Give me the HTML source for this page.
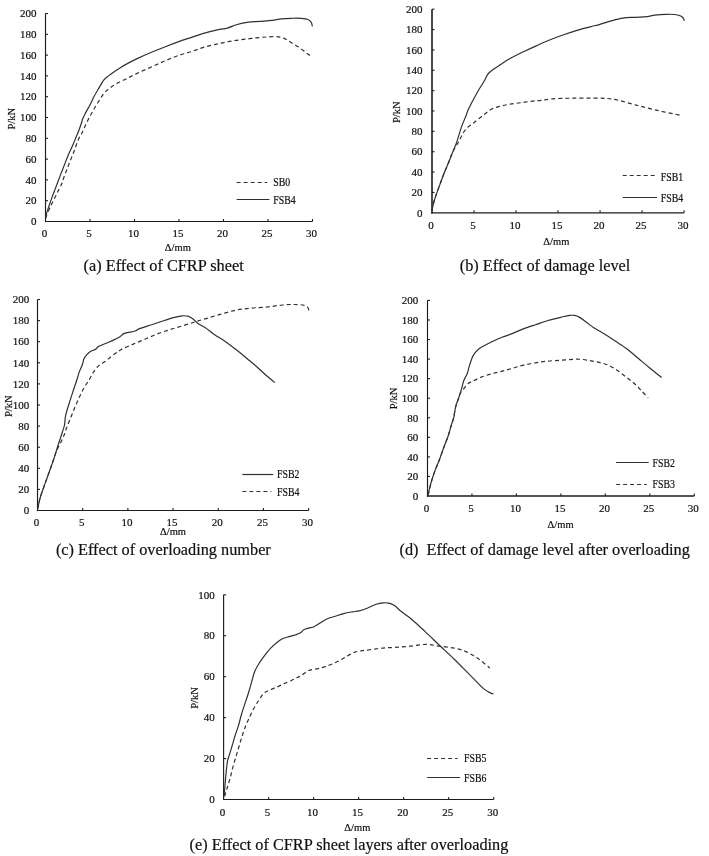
<!DOCTYPE html><html><head><meta charset="utf-8"><style>html,body{margin:0;padding:0;background:#fff;}svg{display:block;filter:blur(0.3px);}text{font-family:"Liberation Serif",serif;fill:#111;stroke:#111;stroke-width:0.2px;}</style></head><body>
<svg width="709" height="856" viewBox="0 0 709 856">
<rect width="709" height="856" fill="#fff"/>
<line x1="45.5" y1="13.5" x2="45.5" y2="222.075" stroke="#1c1c1c" stroke-width="1.15"/>
<line x1="44.925" y1="221.5" x2="312.5" y2="221.5" stroke="#1c1c1c" stroke-width="1.15"/>
<text x="36.5" y="225.2" font-size="11" text-anchor="end">0</text>
<line x1="45.5" y1="200.70" x2="48.0" y2="200.70" stroke="#1c1c1c" stroke-width="1.1"/>
<text x="36.5" y="204.4" font-size="11" text-anchor="end">20</text>
<line x1="45.5" y1="179.90" x2="48.0" y2="179.90" stroke="#1c1c1c" stroke-width="1.1"/>
<text x="36.5" y="183.6" font-size="11" text-anchor="end">40</text>
<line x1="45.5" y1="159.10" x2="48.0" y2="159.10" stroke="#1c1c1c" stroke-width="1.1"/>
<text x="36.5" y="162.8" font-size="11" text-anchor="end">60</text>
<line x1="45.5" y1="138.30" x2="48.0" y2="138.30" stroke="#1c1c1c" stroke-width="1.1"/>
<text x="36.5" y="142.0" font-size="11" text-anchor="end">80</text>
<line x1="45.5" y1="117.50" x2="48.0" y2="117.50" stroke="#1c1c1c" stroke-width="1.1"/>
<text x="36.5" y="121.2" font-size="11" text-anchor="end">100</text>
<line x1="45.5" y1="96.70" x2="48.0" y2="96.70" stroke="#1c1c1c" stroke-width="1.1"/>
<text x="36.5" y="100.4" font-size="11" text-anchor="end">120</text>
<line x1="45.5" y1="75.90" x2="48.0" y2="75.90" stroke="#1c1c1c" stroke-width="1.1"/>
<text x="36.5" y="79.6" font-size="11" text-anchor="end">140</text>
<line x1="45.5" y1="55.10" x2="48.0" y2="55.10" stroke="#1c1c1c" stroke-width="1.1"/>
<text x="36.5" y="58.8" font-size="11" text-anchor="end">160</text>
<line x1="45.5" y1="34.30" x2="48.0" y2="34.30" stroke="#1c1c1c" stroke-width="1.1"/>
<text x="36.5" y="38.0" font-size="11" text-anchor="end">180</text>
<line x1="45.5" y1="13.50" x2="48.0" y2="13.50" stroke="#1c1c1c" stroke-width="1.1"/>
<text x="36.5" y="17.2" font-size="11" text-anchor="end">200</text>
<text x="44.5" y="237.2" font-size="11" text-anchor="middle">0</text>
<line x1="90.00" y1="221.5" x2="90.00" y2="219.0" stroke="#1c1c1c" stroke-width="1.1"/>
<text x="89.0" y="237.2" font-size="11" text-anchor="middle">5</text>
<line x1="134.50" y1="221.5" x2="134.50" y2="219.0" stroke="#1c1c1c" stroke-width="1.1"/>
<text x="133.5" y="237.2" font-size="11" text-anchor="middle">10</text>
<line x1="179.00" y1="221.5" x2="179.00" y2="219.0" stroke="#1c1c1c" stroke-width="1.1"/>
<text x="178.0" y="237.2" font-size="11" text-anchor="middle">15</text>
<line x1="223.50" y1="221.5" x2="223.50" y2="219.0" stroke="#1c1c1c" stroke-width="1.1"/>
<text x="222.5" y="237.2" font-size="11" text-anchor="middle">20</text>
<line x1="268.00" y1="221.5" x2="268.00" y2="219.0" stroke="#1c1c1c" stroke-width="1.1"/>
<text x="267.0" y="237.2" font-size="11" text-anchor="middle">25</text>
<line x1="312.50" y1="221.5" x2="312.50" y2="219.0" stroke="#1c1c1c" stroke-width="1.1"/>
<text x="311.5" y="237.2" font-size="11" text-anchor="middle">30</text>
<text x="0" y="0" font-size="10.5" text-anchor="middle" transform="translate(11.6,118.8) rotate(-90)" dy="3.6">P/kN</text>
<text x="164.8" y="250.8" font-size="10.5" text-anchor="start">&#916;/mm</text>
<path d="M45.80,218.00 C45.80,218.00 45.90,215.85 46.20,214.50 C46.63,212.55 47.65,210.03 48.50,207.50 C49.51,204.48 50.78,200.72 51.90,197.60 C52.91,194.78 53.85,192.36 54.90,189.60 C56.04,186.61 57.42,183.15 58.50,180.30 C59.42,177.89 60.09,175.99 61.00,173.60 C62.06,170.82 63.35,167.55 64.50,164.60 C65.61,161.75 66.55,159.17 67.80,156.20 C69.24,152.79 71.25,148.66 72.70,145.30 C73.93,142.44 74.90,139.98 76.00,137.30 C77.10,134.61 78.30,131.88 79.30,129.20 C80.26,126.62 81.39,123.24 81.90,121.50 C82.16,120.62 82.11,120.31 82.40,119.50 C82.90,118.10 84.00,115.96 85.00,114.00 C86.18,111.68 87.82,108.92 89.10,106.50 C90.28,104.27 91.46,101.91 92.40,100.00 C93.13,98.51 93.48,97.57 94.30,96.00 C95.54,93.65 97.66,90.17 99.30,87.40 C100.85,84.78 102.20,81.81 103.90,79.80 C105.29,78.15 106.79,77.17 108.40,75.90 C110.14,74.53 112.03,73.25 114.00,71.90 C116.14,70.43 118.42,68.86 120.80,67.40 C123.31,65.86 125.96,64.36 128.70,62.90 C131.58,61.36 134.30,60.00 137.70,58.40 C142.04,56.36 147.89,53.82 152.70,51.80 C157.09,49.95 161.16,48.35 165.40,46.70 C169.62,45.05 173.85,43.42 178.10,41.90 C182.32,40.39 186.56,39.02 190.80,37.60 C195.03,36.18 199.24,34.64 203.50,33.40 C207.71,32.17 212.03,31.15 216.20,30.20 C220.19,29.29 224.53,28.79 228.00,27.80 C230.85,26.99 232.78,25.84 235.60,25.00 C238.99,23.99 243.07,23.00 247.00,22.40 C251.10,21.77 255.47,21.73 259.70,21.40 C263.93,21.07 268.55,20.87 272.40,20.40 C275.64,20.00 278.22,19.25 281.30,18.90 C284.57,18.53 288.21,18.40 291.50,18.30 C294.57,18.21 297.56,18.08 300.40,18.30 C303.04,18.51 306.11,18.64 308.00,19.50 C309.37,20.12 310.37,20.99 311.10,22.10 C311.88,23.29 312.40,26.50 312.40,26.50" fill="none" stroke="#303030" stroke-width="1.2" stroke-linejoin="round"/>
<path d="M45.80,218.00 C45.80,218.00 46.12,216.55 46.50,215.50 C47.19,213.57 48.70,210.29 50.00,207.50 C51.46,204.36 53.35,200.75 54.90,197.60 C56.31,194.74 57.63,191.95 58.90,189.40 C60.02,187.16 61.25,185.19 62.10,183.10 C62.89,181.16 63.22,179.26 63.90,177.30 C64.61,175.23 65.50,173.10 66.30,171.00 C67.10,168.90 67.90,166.75 68.70,164.70 C69.47,162.72 70.17,160.98 71.00,158.90 C71.97,156.47 73.08,153.90 74.20,151.00 C75.55,147.49 76.96,142.71 78.50,139.30 C79.76,136.50 81.27,134.39 82.50,131.90 C83.70,129.46 84.61,127.01 85.80,124.50 C87.06,121.85 88.51,119.03 89.90,116.40 C91.24,113.86 92.61,111.39 94.00,109.00 C95.34,106.70 96.60,104.68 98.10,102.30 C99.85,99.53 101.82,95.85 103.90,93.40 C105.66,91.33 107.48,89.88 109.50,88.30 C111.60,86.67 113.76,85.27 116.30,83.80 C119.29,82.06 122.94,80.43 126.40,78.70 C130.06,76.87 133.65,75.01 137.70,73.10 C142.33,70.92 147.91,68.55 152.70,66.40 C157.11,64.43 161.15,62.51 165.40,60.70 C169.62,58.91 173.83,57.09 178.10,55.60 C182.30,54.13 186.58,53.16 190.80,51.80 C195.05,50.43 199.24,48.67 203.50,47.40 C207.71,46.14 212.04,45.17 216.20,44.20 C220.20,43.27 223.98,42.43 228.00,41.70 C232.14,40.95 236.46,40.38 240.70,39.80 C244.93,39.22 249.16,38.67 253.40,38.20 C257.63,37.73 261.86,37.22 266.10,37.00 C270.33,36.78 275.33,36.38 278.80,36.90 C281.30,37.28 283.04,37.98 285.10,38.90 C287.28,39.88 289.28,41.36 291.50,42.70 C293.93,44.17 296.61,45.68 299.10,47.40 C301.68,49.17 304.33,51.47 306.70,53.20 C308.72,54.68 312.40,57.20 312.40,57.20" fill="none" stroke="#303030" stroke-width="1.2" stroke-linejoin="round" stroke-dasharray="4,3"/>
<path d="M236.6,182.5 L267.2,182.5" fill="none" stroke="#303030" stroke-width="1.2" stroke-linejoin="round" stroke-dasharray="4,3"/>
<text x="273.3" y="185.8" font-size="11.5" transform="translate(273.3,0) scale(0.855,1) translate(-273.3,0)">SB0</text>
<path d="M236.6,199.5 L269.4,199.5" fill="none" stroke="#303030" stroke-width="1.2" stroke-linejoin="round"/>
<text x="273.3" y="203.6" font-size="11.5" transform="translate(273.3,0) scale(0.855,1) translate(-273.3,0)">FSB4</text>
<text x="83.6" y="270.8" font-size="16.3">(a) Effect of CFRP sheet</text>
<line x1="432" y1="9.2" x2="432" y2="213.375" stroke="#1c1c1c" stroke-width="1.6"/>
<line x1="431.2" y1="212.8" x2="684.1" y2="212.8" stroke="#1c1c1c" stroke-width="1.15"/>
<text x="422.4" y="216.5" font-size="11" text-anchor="end">0</text>
<line x1="432" y1="192.44" x2="434.5" y2="192.44" stroke="#1c1c1c" stroke-width="1.1"/>
<text x="422.4" y="196.1" font-size="11" text-anchor="end">20</text>
<line x1="432" y1="172.08" x2="434.5" y2="172.08" stroke="#1c1c1c" stroke-width="1.1"/>
<text x="422.4" y="175.8" font-size="11" text-anchor="end">40</text>
<line x1="432" y1="151.72" x2="434.5" y2="151.72" stroke="#1c1c1c" stroke-width="1.1"/>
<text x="422.4" y="155.4" font-size="11" text-anchor="end">60</text>
<line x1="432" y1="131.36" x2="434.5" y2="131.36" stroke="#1c1c1c" stroke-width="1.1"/>
<text x="422.4" y="135.1" font-size="11" text-anchor="end">80</text>
<line x1="432" y1="111.00" x2="434.5" y2="111.00" stroke="#1c1c1c" stroke-width="1.1"/>
<text x="422.4" y="114.7" font-size="11" text-anchor="end">100</text>
<line x1="432" y1="90.64" x2="434.5" y2="90.64" stroke="#1c1c1c" stroke-width="1.1"/>
<text x="422.4" y="94.3" font-size="11" text-anchor="end">120</text>
<line x1="432" y1="70.28" x2="434.5" y2="70.28" stroke="#1c1c1c" stroke-width="1.1"/>
<text x="422.4" y="74.0" font-size="11" text-anchor="end">140</text>
<line x1="432" y1="49.92" x2="434.5" y2="49.92" stroke="#1c1c1c" stroke-width="1.1"/>
<text x="422.4" y="53.6" font-size="11" text-anchor="end">160</text>
<line x1="432" y1="29.56" x2="434.5" y2="29.56" stroke="#1c1c1c" stroke-width="1.1"/>
<text x="422.4" y="33.3" font-size="11" text-anchor="end">180</text>
<line x1="432" y1="9.20" x2="434.5" y2="9.20" stroke="#1c1c1c" stroke-width="1.1"/>
<text x="422.4" y="12.9" font-size="11" text-anchor="end">200</text>
<text x="431.0" y="228.8" font-size="11" text-anchor="middle">0</text>
<line x1="474.02" y1="212.8" x2="474.02" y2="210.3" stroke="#1c1c1c" stroke-width="1.1"/>
<text x="473.0" y="228.8" font-size="11" text-anchor="middle">5</text>
<line x1="516.03" y1="212.8" x2="516.03" y2="210.3" stroke="#1c1c1c" stroke-width="1.1"/>
<text x="515.0" y="228.8" font-size="11" text-anchor="middle">10</text>
<line x1="558.05" y1="212.8" x2="558.05" y2="210.3" stroke="#1c1c1c" stroke-width="1.1"/>
<text x="557.0" y="228.8" font-size="11" text-anchor="middle">15</text>
<line x1="600.07" y1="212.8" x2="600.07" y2="210.3" stroke="#1c1c1c" stroke-width="1.1"/>
<text x="599.1" y="228.8" font-size="11" text-anchor="middle">20</text>
<line x1="642.08" y1="212.8" x2="642.08" y2="210.3" stroke="#1c1c1c" stroke-width="1.1"/>
<text x="641.1" y="228.8" font-size="11" text-anchor="middle">25</text>
<line x1="684.10" y1="212.8" x2="684.10" y2="210.3" stroke="#1c1c1c" stroke-width="1.1"/>
<text x="683.1" y="228.8" font-size="11" text-anchor="middle">30</text>
<text x="0" y="0" font-size="10.5" text-anchor="middle" transform="translate(396.2,112.2) rotate(-90)" dy="3.6">P/kN</text>
<text x="543.3" y="245" font-size="10.5" text-anchor="start">&#916;/mm</text>
<path d="M432.20,210.50 C432.20,210.50 432.30,208.66 432.50,207.50 C432.79,205.83 433.37,203.68 434.00,201.50 C434.77,198.81 435.89,195.48 436.90,192.60 C437.86,189.85 438.83,187.47 439.90,184.60 C441.14,181.25 442.45,177.40 443.90,173.70 C445.43,169.80 447.36,165.59 448.90,161.80 C450.30,158.36 451.49,155.21 452.80,151.90 C454.12,148.57 455.50,145.57 456.80,141.90 C458.35,137.54 459.65,132.04 461.30,127.40 C462.87,122.99 465.28,117.70 466.40,114.70 C467.00,113.07 467.05,112.45 467.70,110.90 C468.79,108.29 470.97,104.18 472.80,100.70 C474.75,96.99 477.07,92.78 479.10,89.30 C480.85,86.29 482.66,83.67 484.20,81.00 C485.60,78.59 486.43,75.95 488.00,74.00 C489.44,72.21 491.18,71.06 493.10,69.60 C495.34,67.89 498.03,66.26 500.70,64.50 C503.64,62.57 506.56,60.46 510.00,58.50 C514.00,56.22 518.92,53.96 523.40,51.80 C527.85,49.66 532.32,47.61 536.80,45.60 C541.25,43.61 545.71,41.61 550.20,39.80 C554.64,38.01 559.12,36.37 563.60,34.80 C568.05,33.24 572.51,31.74 577.00,30.40 C581.45,29.07 586.30,27.88 590.40,26.80 C593.86,25.88 596.76,25.21 600.00,24.30 C603.36,23.35 606.61,22.19 610.20,21.20 C614.16,20.11 618.56,18.75 622.80,18.10 C627.00,17.46 631.37,17.54 635.50,17.30 C639.43,17.07 643.58,17.13 647.00,16.70 C649.81,16.35 651.80,15.59 654.60,15.20 C658.00,14.73 662.43,14.40 666.00,14.30 C669.15,14.21 672.21,14.11 674.90,14.50 C677.20,14.83 679.65,15.26 681.20,16.20 C682.39,16.92 683.39,18.09 683.80,19.00 C684.09,19.64 684.00,20.90 684.00,20.90" fill="none" stroke="#303030" stroke-width="1.2" stroke-linejoin="round"/>
<path d="M432.20,210.50 C432.20,210.50 432.30,208.66 432.50,207.50 C432.79,205.83 433.37,203.68 434.00,201.50 C434.77,198.81 435.89,195.48 436.90,192.60 C437.86,189.85 438.83,187.47 439.90,184.60 C441.14,181.25 442.45,177.40 443.90,173.70 C445.43,169.80 447.42,165.50 448.90,161.80 C450.17,158.60 451.06,155.51 452.30,152.80 C453.38,150.44 454.57,148.53 455.80,146.40 C457.06,144.23 458.64,142.08 459.80,139.90 C460.89,137.84 461.37,135.70 462.60,133.70 C463.94,131.52 465.89,129.16 467.70,127.40 C469.31,125.83 471.02,124.89 472.80,123.50 C474.80,121.95 476.99,120.18 479.10,118.50 C481.23,116.81 483.35,115.01 485.50,113.40 C487.58,111.84 489.51,110.16 491.80,109.00 C494.14,107.81 496.74,107.14 499.40,106.40 C502.23,105.62 505.22,105.05 508.30,104.50 C511.58,103.91 514.91,103.50 518.50,103.00 C522.50,102.44 527.23,101.77 531.20,101.30 C534.70,100.89 537.67,100.69 541.10,100.30 C544.82,99.87 548.35,99.15 552.70,98.80 C558.25,98.35 565.19,98.30 571.70,98.20 C578.57,98.09 586.47,98.13 592.90,98.20 C598.28,98.25 603.19,98.07 607.70,98.50 C611.54,98.86 614.38,99.44 618.30,100.30 C623.30,101.40 629.24,103.34 635.20,104.90 C641.86,106.64 649.00,108.50 656.40,110.20 C664.44,112.05 681.70,115.50 681.70,115.50" fill="none" stroke="#303030" stroke-width="1.2" stroke-linejoin="round" stroke-dasharray="4,3"/>
<path d="M622.7,175.5 L654.7,175.5" fill="none" stroke="#303030" stroke-width="1.2" stroke-linejoin="round" stroke-dasharray="4,3"/>
<text x="660.8" y="180.6" font-size="11.5" transform="translate(660.8,0) scale(0.855,1) translate(-660.8,0)">FSB1</text>
<path d="M622.7,197.5 L657.0,197.5" fill="none" stroke="#303030" stroke-width="1.2" stroke-linejoin="round"/>
<text x="660.8" y="201.7" font-size="11.5" transform="translate(660.8,0) scale(0.855,1) translate(-660.8,0)">FSB4</text>
<text x="459.8" y="270.7" font-size="16.3">(b) Effect of damage level</text>
<line x1="37.5" y1="299.5" x2="37.5" y2="511.075" stroke="#1c1c1c" stroke-width="1.15"/>
<line x1="36.925" y1="510.5" x2="308.6" y2="510.5" stroke="#1c1c1c" stroke-width="1.15"/>
<text x="29.2" y="514.2" font-size="11" text-anchor="end">0</text>
<line x1="37.5" y1="489.40" x2="40.0" y2="489.40" stroke="#1c1c1c" stroke-width="1.1"/>
<text x="29.2" y="493.1" font-size="11" text-anchor="end">20</text>
<line x1="37.5" y1="468.30" x2="40.0" y2="468.30" stroke="#1c1c1c" stroke-width="1.1"/>
<text x="29.2" y="472.0" font-size="11" text-anchor="end">40</text>
<line x1="37.5" y1="447.20" x2="40.0" y2="447.20" stroke="#1c1c1c" stroke-width="1.1"/>
<text x="29.2" y="450.9" font-size="11" text-anchor="end">60</text>
<line x1="37.5" y1="426.10" x2="40.0" y2="426.10" stroke="#1c1c1c" stroke-width="1.1"/>
<text x="29.2" y="429.8" font-size="11" text-anchor="end">80</text>
<line x1="37.5" y1="405.00" x2="40.0" y2="405.00" stroke="#1c1c1c" stroke-width="1.1"/>
<text x="29.2" y="408.7" font-size="11" text-anchor="end">100</text>
<line x1="37.5" y1="383.90" x2="40.0" y2="383.90" stroke="#1c1c1c" stroke-width="1.1"/>
<text x="29.2" y="387.6" font-size="11" text-anchor="end">120</text>
<line x1="37.5" y1="362.80" x2="40.0" y2="362.80" stroke="#1c1c1c" stroke-width="1.1"/>
<text x="29.2" y="366.5" font-size="11" text-anchor="end">140</text>
<line x1="37.5" y1="341.70" x2="40.0" y2="341.70" stroke="#1c1c1c" stroke-width="1.1"/>
<text x="29.2" y="345.4" font-size="11" text-anchor="end">160</text>
<line x1="37.5" y1="320.60" x2="40.0" y2="320.60" stroke="#1c1c1c" stroke-width="1.1"/>
<text x="29.2" y="324.3" font-size="11" text-anchor="end">180</text>
<line x1="37.5" y1="299.50" x2="40.0" y2="299.50" stroke="#1c1c1c" stroke-width="1.1"/>
<text x="29.2" y="303.2" font-size="11" text-anchor="end">200</text>
<text x="36.5" y="526" font-size="11" text-anchor="middle">0</text>
<line x1="82.68" y1="510.5" x2="82.68" y2="508.0" stroke="#1c1c1c" stroke-width="1.1"/>
<text x="81.7" y="526" font-size="11" text-anchor="middle">5</text>
<line x1="127.87" y1="510.5" x2="127.87" y2="508.0" stroke="#1c1c1c" stroke-width="1.1"/>
<text x="126.9" y="526" font-size="11" text-anchor="middle">10</text>
<line x1="173.05" y1="510.5" x2="173.05" y2="508.0" stroke="#1c1c1c" stroke-width="1.1"/>
<text x="172.1" y="526" font-size="11" text-anchor="middle">15</text>
<line x1="218.23" y1="510.5" x2="218.23" y2="508.0" stroke="#1c1c1c" stroke-width="1.1"/>
<text x="217.2" y="526" font-size="11" text-anchor="middle">20</text>
<line x1="263.42" y1="510.5" x2="263.42" y2="508.0" stroke="#1c1c1c" stroke-width="1.1"/>
<text x="262.4" y="526" font-size="11" text-anchor="middle">25</text>
<line x1="308.60" y1="510.5" x2="308.60" y2="508.0" stroke="#1c1c1c" stroke-width="1.1"/>
<text x="307.6" y="526" font-size="11" text-anchor="middle">30</text>
<text x="0" y="0" font-size="10.5" text-anchor="middle" transform="translate(8.1,406.2) rotate(-90)" dy="3.6">P/kN</text>
<text x="160" y="535" font-size="10.5" text-anchor="start">&#916;/mm</text>
<path d="M37.60,509.20 C37.60,509.20 39.12,501.54 40.10,498.00 C41.01,494.73 42.01,492.13 43.20,488.70 C44.69,484.41 46.68,479.10 48.40,474.30 C50.12,469.50 51.85,464.87 53.50,459.90 C55.25,454.63 57.09,448.19 58.60,443.50 C59.74,439.96 60.71,437.30 61.70,434.20 C62.68,431.13 63.87,428.08 64.50,425.00 C65.12,422.01 64.85,419.26 65.50,416.00 C66.31,411.97 68.07,407.03 69.40,402.70 C70.68,398.54 72.05,394.36 73.30,390.50 C74.44,387.00 75.79,382.93 76.60,380.50 C77.06,379.10 77.30,378.45 77.70,377.20 C78.22,375.58 78.70,373.52 79.40,371.60 C80.17,369.47 81.38,367.28 82.20,365.00 C83.05,362.65 83.19,359.84 84.40,357.70 C85.60,355.58 87.46,353.67 89.40,352.20 C91.33,350.74 94.43,350.03 96.00,348.90 C97.04,348.15 97.21,347.34 98.30,346.60 C100.04,345.42 103.34,344.45 106.00,343.30 C108.86,342.06 112.36,340.63 114.90,339.40 C116.86,338.46 118.47,337.71 120.00,336.70 C121.41,335.76 122.06,334.45 123.80,333.60 C126.48,332.29 132.47,332.04 135.20,331.00 C136.86,330.37 137.32,329.64 139.00,328.90 C141.95,327.61 147.47,326.10 151.70,324.70 C155.93,323.30 160.54,321.75 164.40,320.50 C167.63,319.46 170.31,318.49 173.30,317.70 C176.25,316.92 179.48,315.96 182.20,315.80 C184.47,315.67 186.63,315.80 188.50,316.40 C190.19,316.94 191.47,317.90 193.00,319.00 C194.85,320.33 196.67,322.57 198.70,324.00 C200.68,325.39 202.75,326.04 205.00,327.50 C207.86,329.36 211.03,332.24 214.30,334.50 C217.74,336.88 221.50,338.84 225.20,341.40 C229.26,344.22 233.79,347.78 237.60,350.80 C240.95,353.46 243.80,355.92 246.90,358.50 C250.00,361.09 253.13,363.61 256.20,366.30 C259.33,369.04 262.37,372.06 265.50,374.80 C268.57,377.49 274.80,382.60 274.80,382.60" fill="none" stroke="#303030" stroke-width="1.2" stroke-linejoin="round"/>
<path d="M37.60,509.20 C37.60,509.20 39.12,501.54 40.10,498.00 C41.01,494.73 42.01,492.13 43.20,488.70 C44.69,484.41 46.68,479.10 48.40,474.30 C50.12,469.50 52.21,463.69 53.50,459.90 C54.34,457.44 54.71,455.90 55.50,453.80 C56.38,451.48 57.53,448.90 58.60,446.60 C59.60,444.44 60.70,442.56 61.70,440.40 C62.77,438.10 63.96,435.42 64.80,433.20 C65.50,431.34 65.77,429.99 66.50,428.00 C67.52,425.23 69.13,421.57 70.50,418.20 C71.96,414.62 73.48,410.69 75.00,407.10 C76.45,403.67 77.89,400.31 79.40,397.10 C80.83,394.05 82.17,391.20 83.80,388.30 C85.49,385.30 87.68,382.29 89.40,379.40 C90.99,376.73 92.22,373.91 93.80,371.60 C95.21,369.54 96.52,367.73 98.30,366.10 C100.19,364.37 102.73,363.23 104.90,361.60 C107.16,359.90 109.34,357.80 111.60,356.10 C113.77,354.47 116.42,352.84 118.20,351.60 C119.43,350.74 119.89,350.20 121.30,349.40 C123.86,347.95 128.79,346.09 132.70,344.40 C136.81,342.62 141.17,340.80 145.40,339.00 C149.63,337.20 153.83,335.21 158.10,333.60 C162.30,332.02 166.56,330.74 170.80,329.40 C175.02,328.07 179.27,326.91 183.50,325.60 C187.74,324.28 192.35,322.69 196.20,321.50 C199.39,320.51 201.65,319.89 205.00,318.90 C209.44,317.59 215.32,315.77 220.50,314.30 C225.66,312.84 230.80,311.14 236.00,310.10 C241.13,309.08 246.32,308.62 251.50,308.10 C256.68,307.58 261.92,307.52 267.10,307.00 C272.28,306.48 277.71,305.41 282.60,305.00 C286.96,304.63 291.17,304.39 295.00,304.50 C298.33,304.59 302.02,304.69 304.30,305.40 C305.77,305.86 306.88,306.31 307.70,307.30 C308.63,308.42 309.30,312.00 309.30,312.00" fill="none" stroke="#303030" stroke-width="1.2" stroke-linejoin="round" stroke-dasharray="4,3"/>
<path d="M242.4,474.5 L273.2,474.5" fill="none" stroke="#303030" stroke-width="1.2" stroke-linejoin="round"/>
<text x="277" y="478.1" font-size="11.5" transform="translate(277,0) scale(0.855,1) translate(-277,0)">FSB2</text>
<path d="M242.4,491.5 L271.3,491.5" fill="none" stroke="#303030" stroke-width="1.2" stroke-linejoin="round" stroke-dasharray="4,3"/>
<text x="277" y="495.8" font-size="11.5" transform="translate(277,0) scale(0.855,1) translate(-277,0)">FSB4</text>
<text x="55.9" y="555.2" font-size="16.3">(c) Effect of overloading number</text>
<line x1="427.5" y1="300.4" x2="427.5" y2="496.8" stroke="#1c1c1c" stroke-width="1.15"/>
<line x1="426.925" y1="496" x2="694.3" y2="496" stroke="#1c1c1c" stroke-width="1.6"/>
<text x="418.2" y="499.7" font-size="11" text-anchor="end">0</text>
<line x1="427.5" y1="476.44" x2="430.0" y2="476.44" stroke="#1c1c1c" stroke-width="1.1"/>
<text x="418.2" y="480.1" font-size="11" text-anchor="end">20</text>
<line x1="427.5" y1="456.88" x2="430.0" y2="456.88" stroke="#1c1c1c" stroke-width="1.1"/>
<text x="418.2" y="460.6" font-size="11" text-anchor="end">40</text>
<line x1="427.5" y1="437.32" x2="430.0" y2="437.32" stroke="#1c1c1c" stroke-width="1.1"/>
<text x="418.2" y="441.0" font-size="11" text-anchor="end">60</text>
<line x1="427.5" y1="417.76" x2="430.0" y2="417.76" stroke="#1c1c1c" stroke-width="1.1"/>
<text x="418.2" y="421.5" font-size="11" text-anchor="end">80</text>
<line x1="427.5" y1="398.20" x2="430.0" y2="398.20" stroke="#1c1c1c" stroke-width="1.1"/>
<text x="418.2" y="401.9" font-size="11" text-anchor="end">100</text>
<line x1="427.5" y1="378.64" x2="430.0" y2="378.64" stroke="#1c1c1c" stroke-width="1.1"/>
<text x="418.2" y="382.3" font-size="11" text-anchor="end">120</text>
<line x1="427.5" y1="359.08" x2="430.0" y2="359.08" stroke="#1c1c1c" stroke-width="1.1"/>
<text x="418.2" y="362.8" font-size="11" text-anchor="end">140</text>
<line x1="427.5" y1="339.52" x2="430.0" y2="339.52" stroke="#1c1c1c" stroke-width="1.1"/>
<text x="418.2" y="343.2" font-size="11" text-anchor="end">160</text>
<line x1="427.5" y1="319.96" x2="430.0" y2="319.96" stroke="#1c1c1c" stroke-width="1.1"/>
<text x="418.2" y="323.7" font-size="11" text-anchor="end">180</text>
<line x1="427.5" y1="300.40" x2="430.0" y2="300.40" stroke="#1c1c1c" stroke-width="1.1"/>
<text x="418.2" y="304.1" font-size="11" text-anchor="end">200</text>
<text x="426.5" y="511.7" font-size="11" text-anchor="middle">0</text>
<line x1="471.97" y1="496" x2="471.97" y2="493.5" stroke="#1c1c1c" stroke-width="1.1"/>
<text x="471.0" y="511.7" font-size="11" text-anchor="middle">5</text>
<line x1="516.43" y1="496" x2="516.43" y2="493.5" stroke="#1c1c1c" stroke-width="1.1"/>
<text x="515.4" y="511.7" font-size="11" text-anchor="middle">10</text>
<line x1="560.90" y1="496" x2="560.90" y2="493.5" stroke="#1c1c1c" stroke-width="1.1"/>
<text x="559.9" y="511.7" font-size="11" text-anchor="middle">15</text>
<line x1="605.37" y1="496" x2="605.37" y2="493.5" stroke="#1c1c1c" stroke-width="1.1"/>
<text x="604.4" y="511.7" font-size="11" text-anchor="middle">20</text>
<line x1="649.83" y1="496" x2="649.83" y2="493.5" stroke="#1c1c1c" stroke-width="1.1"/>
<text x="648.8" y="511.7" font-size="11" text-anchor="middle">25</text>
<line x1="694.30" y1="496" x2="694.30" y2="493.5" stroke="#1c1c1c" stroke-width="1.1"/>
<text x="693.3" y="511.7" font-size="11" text-anchor="middle">30</text>
<text x="0" y="0" font-size="10.5" text-anchor="middle" transform="translate(393,398.5) rotate(-90)" dy="3.6">P/kN</text>
<text x="547.6" y="528.4" font-size="10.5" text-anchor="start">&#916;/mm</text>
<path d="M428.10,495.10 C428.10,495.10 429.58,488.33 430.40,485.20 C431.15,482.33 431.92,479.71 432.80,477.00 C433.68,474.28 434.65,471.65 435.70,468.90 C436.81,465.99 438.09,463.19 439.30,460.00 C440.68,456.36 442.05,452.15 443.50,448.20 C444.98,444.18 446.76,440.08 448.10,436.10 C449.37,432.32 450.37,428.25 451.40,424.90 C452.25,422.14 453.24,419.74 453.80,417.40 C454.27,415.42 454.34,413.74 454.70,411.80 C455.09,409.69 455.49,407.37 456.10,405.20 C456.72,403.00 457.68,400.79 458.40,398.70 C459.07,396.77 459.69,395.05 460.30,393.10 C460.96,391.00 461.58,388.69 462.20,386.50 C462.81,384.33 463.18,382.08 464.00,380.00 C464.82,377.92 466.24,376.19 467.10,374.00 C468.05,371.59 468.38,368.91 469.30,366.10 C470.38,362.78 471.59,358.37 473.30,355.40 C474.73,352.91 476.42,350.91 478.40,349.20 C480.36,347.52 482.75,346.48 485.10,345.20 C487.60,343.84 490.26,342.58 493.00,341.30 C495.91,339.94 499.16,338.49 502.10,337.30 C504.81,336.21 507.07,335.55 510.00,334.40 C513.75,332.93 518.44,330.72 522.70,329.10 C526.91,327.49 531.16,326.13 535.40,324.70 C539.63,323.27 543.84,321.74 548.10,320.50 C552.31,319.27 556.93,318.20 560.80,317.30 C564.02,316.55 567.15,315.67 569.70,315.40 C571.59,315.20 573.10,315.11 574.70,315.40 C576.27,315.69 577.60,316.24 579.20,317.10 C581.35,318.25 583.83,320.36 586.20,322.10 C588.69,323.92 591.46,326.28 593.80,327.80 C595.65,329.00 596.99,329.53 599.00,330.70 C601.85,332.36 605.83,334.74 609.20,336.90 C612.60,339.08 615.94,341.37 619.30,343.70 C622.71,346.07 626.16,348.40 629.50,351.00 C632.93,353.66 636.22,356.67 639.60,359.50 C642.99,362.34 646.26,365.10 649.80,368.00 C653.58,371.09 661.60,377.50 661.60,377.50" fill="none" stroke="#303030" stroke-width="1.2" stroke-linejoin="round"/>
<path d="M428.10,495.10 C428.10,495.10 429.58,488.33 430.40,485.20 C431.15,482.33 431.92,479.71 432.80,477.00 C433.68,474.28 434.65,471.65 435.70,468.90 C436.81,465.99 438.09,463.19 439.30,460.00 C440.68,456.36 442.05,452.15 443.50,448.20 C444.98,444.18 446.76,440.08 448.10,436.10 C449.37,432.32 450.37,428.25 451.40,424.90 C452.25,422.14 453.24,419.74 453.80,417.40 C454.27,415.42 454.34,413.74 454.70,411.80 C455.09,409.69 455.49,407.37 456.10,405.20 C456.72,403.00 457.68,400.79 458.40,398.70 C459.07,396.77 459.37,394.81 460.30,393.10 C461.23,391.38 462.75,389.96 464.00,388.40 C465.25,386.83 466.25,384.94 467.80,383.70 C469.38,382.43 471.41,381.88 473.40,380.90 C475.65,379.79 477.95,378.48 480.60,377.40 C483.67,376.15 487.29,375.02 490.80,374.00 C494.45,372.94 498.45,372.16 502.10,371.20 C505.57,370.29 508.80,369.37 512.20,368.40 C515.67,367.41 519.01,366.21 522.70,365.30 C526.71,364.32 531.16,363.50 535.40,362.80 C539.62,362.10 543.86,361.53 548.10,361.10 C552.33,360.67 556.57,360.50 560.80,360.20 C565.03,359.90 569.81,359.43 573.50,359.30 C576.35,359.20 578.40,359.09 581.10,359.30 C584.24,359.55 588.05,360.37 591.20,360.90 C593.97,361.37 596.32,361.65 599.00,362.30 C601.94,363.01 605.14,363.83 608.10,365.10 C611.18,366.43 614.16,368.27 617.10,370.20 C620.17,372.22 623.21,374.77 626.10,377.00 C628.83,379.10 631.53,381.01 634.00,383.20 C636.42,385.35 638.52,387.62 640.80,390.00 C643.21,392.51 648.10,397.90 648.10,397.90" fill="none" stroke="#303030" stroke-width="1.2" stroke-linejoin="round" stroke-dasharray="4,3"/>
<path d="M616.1,462.5 L648.7,462.5" fill="none" stroke="#303030" stroke-width="1.2" stroke-linejoin="round"/>
<text x="652.5" y="467" font-size="11.5" transform="translate(652.5,0) scale(0.855,1) translate(-652.5,0)">FSB2</text>
<path d="M616.1,484.5 L646.8,484.5" fill="none" stroke="#303030" stroke-width="1.2" stroke-linejoin="round" stroke-dasharray="4,3"/>
<text x="652.5" y="488" font-size="11.5" transform="translate(652.5,0) scale(0.855,1) translate(-652.5,0)">FSB3</text>
<text x="399.5" y="555.2" font-size="16.3">(d)&#160; Effect of damage level after overloading</text>
<line x1="223.6" y1="594.8" x2="223.6" y2="800.075" stroke="#1c1c1c" stroke-width="1.15"/>
<line x1="223.025" y1="799.5" x2="493.7" y2="799.5" stroke="#1c1c1c" stroke-width="1.15"/>
<text x="214.8" y="803.2" font-size="11" text-anchor="end">0</text>
<line x1="223.6" y1="758.56" x2="226.1" y2="758.56" stroke="#1c1c1c" stroke-width="1.1"/>
<text x="214.8" y="762.3" font-size="11" text-anchor="end">20</text>
<line x1="223.6" y1="717.62" x2="226.1" y2="717.62" stroke="#1c1c1c" stroke-width="1.1"/>
<text x="214.8" y="721.3" font-size="11" text-anchor="end">40</text>
<line x1="223.6" y1="676.68" x2="226.1" y2="676.68" stroke="#1c1c1c" stroke-width="1.1"/>
<text x="214.8" y="680.4" font-size="11" text-anchor="end">60</text>
<line x1="223.6" y1="635.74" x2="226.1" y2="635.74" stroke="#1c1c1c" stroke-width="1.1"/>
<text x="214.8" y="639.4" font-size="11" text-anchor="end">80</text>
<line x1="223.6" y1="594.80" x2="226.1" y2="594.80" stroke="#1c1c1c" stroke-width="1.1"/>
<text x="214.8" y="598.5" font-size="11" text-anchor="end">100</text>
<text x="222.6" y="815.9" font-size="11" text-anchor="middle">0</text>
<line x1="268.62" y1="799.5" x2="268.62" y2="797.0" stroke="#1c1c1c" stroke-width="1.1"/>
<text x="267.6" y="815.9" font-size="11" text-anchor="middle">5</text>
<line x1="313.63" y1="799.5" x2="313.63" y2="797.0" stroke="#1c1c1c" stroke-width="1.1"/>
<text x="312.6" y="815.9" font-size="11" text-anchor="middle">10</text>
<line x1="358.65" y1="799.5" x2="358.65" y2="797.0" stroke="#1c1c1c" stroke-width="1.1"/>
<text x="357.6" y="815.9" font-size="11" text-anchor="middle">15</text>
<line x1="403.67" y1="799.5" x2="403.67" y2="797.0" stroke="#1c1c1c" stroke-width="1.1"/>
<text x="402.7" y="815.9" font-size="11" text-anchor="middle">20</text>
<line x1="448.68" y1="799.5" x2="448.68" y2="797.0" stroke="#1c1c1c" stroke-width="1.1"/>
<text x="447.7" y="815.9" font-size="11" text-anchor="middle">25</text>
<line x1="493.70" y1="799.5" x2="493.70" y2="797.0" stroke="#1c1c1c" stroke-width="1.1"/>
<text x="492.7" y="815.9" font-size="11" text-anchor="middle">30</text>
<text x="0" y="0" font-size="10.5" text-anchor="middle" transform="translate(194.1,698) rotate(-90)" dy="3.6">P/kN</text>
<text x="344.3" y="830.5" font-size="10.5" text-anchor="start">&#916;/mm</text>
<path d="M224.10,796.30 C224.10,796.30 224.74,788.25 225.10,784.10 C225.47,779.79 225.85,775.01 226.30,770.90 C226.70,767.28 227.01,763.48 227.60,760.70 C228.02,758.72 228.51,757.66 229.10,755.70 C229.95,752.90 231.18,748.90 232.20,745.50 C233.22,742.10 234.16,738.59 235.20,735.30 C236.19,732.17 237.33,729.41 238.30,726.20 C239.37,722.68 240.33,718.34 241.30,715.00 C242.09,712.27 242.70,710.40 243.60,707.60 C244.80,703.89 246.60,698.82 247.90,694.70 C249.08,690.95 249.99,687.66 251.10,683.90 C252.31,679.79 253.31,674.79 254.90,671.00 C256.26,667.76 257.97,665.12 259.70,662.40 C261.38,659.76 263.26,657.28 265.10,654.90 C266.86,652.62 268.55,650.45 270.50,648.40 C272.48,646.32 274.80,644.18 276.90,642.50 C278.72,641.05 280.34,639.78 282.30,638.80 C284.30,637.80 286.63,637.24 288.80,636.60 C290.93,635.97 293.24,635.63 295.20,635.00 C296.93,634.44 298.52,633.98 300.00,633.10 C301.53,632.19 302.71,630.44 304.20,629.60 C305.56,628.83 306.96,628.56 308.50,628.10 C310.23,627.58 312.29,627.47 314.10,626.70 C316.03,625.88 317.71,624.41 319.70,623.20 C321.92,621.85 324.26,620.15 326.80,619.00 C329.45,617.80 332.47,617.10 335.30,616.20 C338.10,615.30 340.87,614.32 343.70,613.60 C346.51,612.89 349.50,612.38 352.20,611.90 C354.64,611.46 356.78,611.39 359.20,610.80 C361.92,610.14 364.89,609.09 367.70,608.00 C370.56,606.89 373.46,605.08 376.20,604.20 C378.60,603.43 380.98,602.94 383.20,602.80 C385.19,602.67 387.05,602.75 388.90,603.20 C390.82,603.66 392.73,604.47 394.50,605.60 C396.45,606.84 397.86,608.75 400.00,610.50 C402.76,612.75 406.27,614.91 409.80,617.80 C414.30,621.49 419.70,626.57 424.60,631.10 C429.57,635.70 434.46,640.51 439.40,645.20 C444.33,649.88 449.29,654.43 454.20,659.20 C459.19,664.06 464.14,669.14 469.10,674.10 C474.04,679.04 479.93,685.74 483.90,688.90 C486.19,690.72 488.02,691.72 489.80,692.60 C491.14,693.27 493.50,694.00 493.50,694.00" fill="none" stroke="#303030" stroke-width="1.2" stroke-linejoin="round"/>
<path d="M224.60,796.30 C224.60,796.30 226.23,791.06 227.10,788.20 C228.08,785.00 229.22,781.57 230.20,778.00 C231.26,774.13 232.13,769.66 233.20,765.80 C234.18,762.26 235.28,759.08 236.30,755.70 C237.32,752.31 238.28,748.90 239.30,745.50 C240.32,742.10 241.30,738.68 242.40,735.30 C243.50,731.91 244.70,728.22 245.90,725.20 C246.91,722.66 247.79,720.87 249.00,718.30 C250.57,714.98 252.68,710.40 254.60,707.00 C256.26,704.05 258.04,701.44 259.70,699.00 C261.16,696.86 262.20,694.63 264.00,693.10 C265.80,691.57 268.24,690.86 270.50,689.80 C272.89,688.68 275.60,687.70 278.00,686.60 C280.26,685.56 282.33,684.39 284.50,683.40 C286.63,682.43 288.77,681.67 290.90,680.70 C293.07,679.71 295.55,678.39 297.40,677.50 C298.77,676.84 299.62,676.60 301.00,675.80 C303.09,674.58 305.69,671.70 308.50,670.50 C311.43,669.25 315.05,669.42 318.30,668.60 C321.62,667.76 324.93,666.70 328.20,665.50 C331.53,664.28 334.85,662.92 338.10,661.30 C341.45,659.63 344.96,657.23 348.00,655.60 C350.51,654.25 352.60,652.92 355.00,652.10 C357.31,651.31 359.46,651.13 362.10,650.70 C365.40,650.17 369.56,649.77 373.30,649.30 C377.06,648.83 380.91,648.22 384.60,647.90 C388.13,647.60 391.23,647.64 395.00,647.40 C399.50,647.11 404.75,646.68 409.80,646.20 C415.11,645.69 420.95,644.34 426.10,644.40 C430.76,644.46 434.85,645.60 439.40,646.20 C444.20,646.83 449.91,647.27 454.20,648.10 C457.56,648.75 460.19,649.32 463.10,650.40 C466.13,651.53 469.09,653.12 472.00,654.80 C475.02,656.54 477.99,658.54 480.90,660.70 C483.93,662.95 489.80,668.10 489.80,668.10" fill="none" stroke="#303030" stroke-width="1.2" stroke-linejoin="round" stroke-dasharray="4,3"/>
<path d="M427.1,758.5 L457.6,758.5" fill="none" stroke="#303030" stroke-width="1.2" stroke-linejoin="round" stroke-dasharray="4,3"/>
<text x="464" y="762" font-size="11.5" transform="translate(464,0) scale(0.855,1) translate(-464,0)">FSB5</text>
<path d="M427.1,777.5 L460.1,777.5" fill="none" stroke="#303030" stroke-width="1.2" stroke-linejoin="round"/>
<text x="464" y="781.7" font-size="11.5" transform="translate(464,0) scale(0.855,1) translate(-464,0)">FSB6</text>
<text x="189.6" y="850.4" font-size="16.3">(e) Effect of CFRP sheet layers after overloading</text>
</svg></body></html>
